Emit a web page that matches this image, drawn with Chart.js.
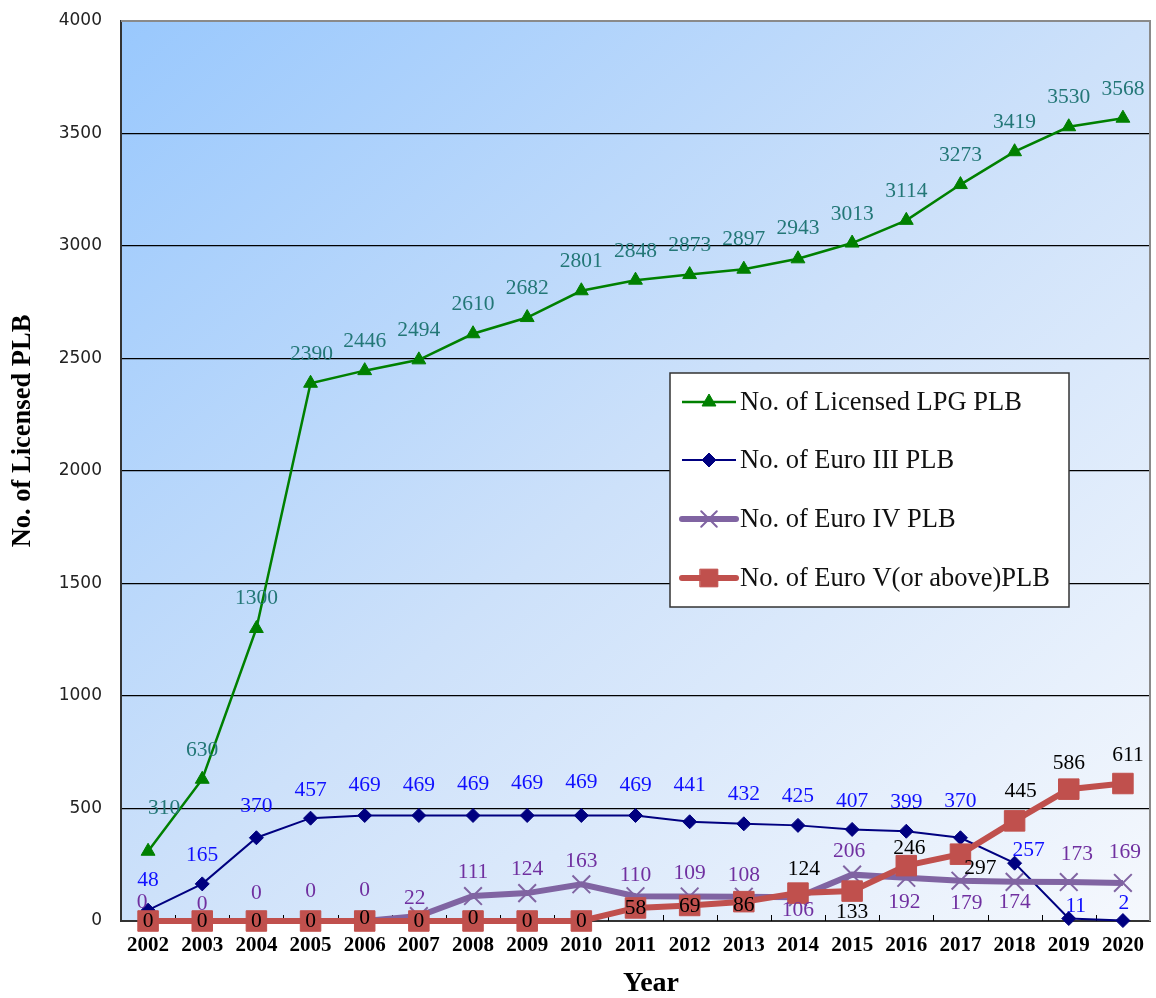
<!DOCTYPE html>
<html>
<head>
<meta charset="utf-8">
<title>Licensed PLB by fuel type, 2002–2020</title>
<script src="https://cdn.jsdelivr.net/npm/chart.js@4.4.1/dist/chart.umd.min.js"></script>
<style>
  html, body { margin: 0; padding: 0; background: #ffffff; }
  #wrap { width: 1156px; height: 998px; }
</style>
</head>
<body>
<div id="wrap"><canvas id="plb" width="1156" height="998"></canvas></div>
<script>
// ---- data ----
const years = ['2002','2003','2004','2005','2006','2007','2008','2009','2010','2011',
               '2012','2013','2014','2015','2016','2017','2018','2019','2020'];
const lpgPlb    = [310, 630, 1300, 2390, 2446, 2494, 2610, 2682, 2801, 2848, 2873, 2897, 2943, 3013, 3114, 3273, 3419, 3530, 3568];
const euro3Plb  = [48, 165, 370, 457, 469, 469, 469, 469, 469, 469, 441, 432, 425, 407, 399, 370, 257, 11, 2];
const euro4Plb  = [0, 0, 0, 0, 0, 22, 111, 124, 163, 110, 109, 108, 106, 206, 192, 179, 174, 173, 169];
const euro5Plb  = [0, 0, 0, 0, 0, 0, 0, 0, 0, 58, 69, 86, 124, 133, 246, 297, 445, 586, 611];
const yTicks    = [0, 500, 1000, 1500, 2000, 2500, 3000, 3500, 4000];

const seriesNames = ['No. of Licensed LPG PLB', 'No. of Euro III PLB', 'No. of Euro IV PLB', 'No. of Euro V(or above)PLB'];

// value-label placement relative to each point: [dx, dy] in pixels
const lpgLabelPos = [[16,-43],[0,-29],[0,-30],[1,-29],[0,-29],[0,-29],[0,-29],[0,-29],[0,-29],[0,-29],
                     [0,-29],[0,-30],[0,-30],[0,-29],[0,-29],[0,-29],[0,-29],[0,-29],[0,-29]];
const euro3LabelPos = [[0,-30],[0,-29],[0,-31],[0,-28],[0,-30],[0,-30],[0,-31],[0,-32],[0,-33],[0,-30],
                       [0,-36],[0,-29],[0,-29],[0,-28],[0,-29],[0,-36],[14,-13],[7,-12],[1,-17]];
const euro4LabelPos = [[-6,-19],[0,-17],[0,-28],[0,-30],[0,-31],[-4,-18],[0,-24],[0,-24],[0,-23],[0,-21],
                       [0,-23],[0,-21],[0,13],[-3,-23],[-2,25],[6,23],[0,21],[8,-28],[2,-31]];
const euro5LabelPos = [[0,0],[0,0],[0,0],[0,0],[0,-3],[0,0],[0,-3],[0,0],[0,0],[0,0],
                       [0,1],[0,4],[6,-24],[0,21],[3,-17],[20,14],[6,-30],[0,-26],[5,-28]];

// ---- styles ----
const SERIF = '"Liberation Serif", "Times New Roman", serif';
const SANS = '"DejaVu Sans", Tahoma, sans-serif';
const GREEN = '#008000', NAVY = '#000080', PURPLE = '#8064a2', RED = '#c0504d';

// plot background, top/right frame, inner tick marks and axis titles
const framePlugin = {
  id: 'frame',
  beforeDraw(chart) {
    const { ctx, chartArea: a } = chart;
    const W = a.right - a.left, H = a.bottom - a.top;
    const t = 2 * W * H / (W * W + H * H);
    const g = ctx.createLinearGradient(a.left, a.top, a.left + t * H, a.top + t * W);
    g.addColorStop(0, '#99c8fd');
    g.addColorStop(0.5, '#cde1fa');
    g.addColorStop(1, '#f5f8fd');
    ctx.save();
    ctx.fillStyle = g;
    ctx.fillRect(a.left, a.top, W, H);
    ctx.restore();
  },
  beforeDatasetsDraw(chart) {
    const { ctx, chartArea: a, scales } = chart;
    const xs = scales.x;
    ctx.save();
    ctx.strokeStyle = '#8a8a8a';
    ctx.lineWidth = 2;
    ctx.beginPath();
    ctx.moveTo(a.left, a.top);
    ctx.lineTo(a.right, a.top);
    ctx.lineTo(a.right, a.bottom);
    ctx.stroke();
    ctx.strokeStyle = '#000';
    ctx.lineWidth = 1;
    ctx.beginPath();
    for (let i = 1; i < years.length; i++) {
      const x = Math.round((xs.getPixelForValue(i - 1) + xs.getPixelForValue(i)) / 2) + 0.5;
      ctx.moveTo(x, a.bottom);
      ctx.lineTo(x, a.bottom - 6);
    }
    ctx.stroke();
    ctx.restore();
  },
  afterDraw(chart) {
    const { ctx } = chart;
    ctx.save();
    ctx.fillStyle = '#000';
    ctx.textAlign = 'center';
    ctx.textBaseline = 'middle';
    ctx.font = 'bold 28px ' + SERIF;
    ctx.fillText('Year', 651, 984);
    ctx.translate(23, 431);
    ctx.rotate(-Math.PI / 2);
    ctx.font = 'bold 26.5px ' + SERIF;
    ctx.fillText('No. of Licensed PLB', 0, 0);
    ctx.restore();
  }
};

// value labels next to each point
const valueLabelPlugin = {
  id: 'valueLabels',
  afterDatasetsDraw(chart) {
    const ctx = chart.ctx;
    ctx.save();
    ctx.font = '21.5px ' + SERIF;
    ctx.textAlign = 'center';
    ctx.textBaseline = 'middle';
    chart.data.datasets.forEach((ds, di) => {
      const meta = chart.getDatasetMeta(di);
      ctx.fillStyle = ds.labelColor;
      meta.data.forEach((pt, i) => {
        const p = ds.labelPos[i];
        ctx.fillText(String(ds.data[i]), pt.x + p[0], pt.y + p[1]);
      });
    });
    ctx.restore();
  }
};

// boxed legend inside the plot
const boxLegendPlugin = {
  id: 'boxLegend',
  afterDraw(chart) {
    const ctx = chart.ctx;
    const box = { x: 670, y: 373, w: 399, h: 234 };
    const rows = [402, 460, 519, 578];
    ctx.save();
    ctx.fillStyle = '#ffffff';
    ctx.fillRect(box.x, box.y, box.w, box.h);
    ctx.strokeStyle = '#333';
    ctx.lineWidth = 1.5;
    ctx.strokeRect(box.x, box.y, box.w, box.h);
    chart.data.datasets.forEach((ds, i) => {
      const y = rows[i];
      ctx.save();
      ctx.strokeStyle = ds.borderColor;
      ctx.lineWidth = ds.borderWidth;
      ctx.lineCap = ds.borderWidth > 3 ? 'round' : 'butt';
      ctx.beginPath();
      ctx.moveTo(682, y);
      ctx.lineTo(736, y);
      ctx.stroke();
      ctx.fillStyle = ds.pointBackgroundColor;
      ctx.strokeStyle = ds.pointBorderColor;
      ctx.lineWidth = ds.pointBorderWidth;
      Chart.helpers.drawPoint(ctx, {
        pointStyle: ds.pointStyle,
        radius: ds.legendRadius,
        borderWidth: ds.pointBorderWidth,
        rotation: 0
      }, 709, y);
      ctx.restore();
      ctx.fillStyle = '#111';
      ctx.font = '26.5px ' + SERIF;
      ctx.textAlign = 'left';
      ctx.textBaseline = 'middle';
      ctx.fillText(ds.label, 740, y + 1);
    });
    ctx.restore();
  }
};

const datasets = [
  {
    label: seriesNames[0], data: lpgPlb, order: 4,
    borderColor: GREEN, backgroundColor: GREEN, borderWidth: 2.5,
    pointStyle: 'triangle', pointRadius: 8, legendRadius: 8,
    pointBackgroundColor: GREEN, pointBorderColor: GREEN, pointBorderWidth: 1,
    labelColor: '#237777', labelPos: lpgLabelPos
  },
  {
    label: seriesNames[1], data: euro3Plb, order: 3,
    borderColor: NAVY, backgroundColor: NAVY, borderWidth: 2,
    pointStyle: 'rectRot', pointRadius: 7, legendRadius: 7,
    pointBackgroundColor: NAVY, pointBorderColor: NAVY, pointBorderWidth: 1,
    labelColor: '#1010ff', labelPos: euro3LabelPos
  },
  {
    label: seriesNames[2], data: euro4Plb, order: 2,
    borderColor: PURPLE, backgroundColor: PURPLE, borderWidth: 6,
    pointStyle: 'crossRot', pointRadius: 12.5, legendRadius: 11,
    pointBackgroundColor: PURPLE, pointBorderColor: PURPLE, pointBorderWidth: 2,
    labelColor: '#7030a0', labelPos: euro4LabelPos
  },
  {
    label: seriesNames[3], data: euro5Plb, order: 1,
    borderColor: RED, backgroundColor: RED, borderWidth: 6,
    pointStyle: 'rect', pointRadius: 14.5, legendRadius: 12.5,
    pointBackgroundColor: RED, pointBorderColor: RED, pointBorderWidth: 1,
    labelColor: '#000000', labelPos: euro5LabelPos
  }
];
datasets.forEach(d => { d.tension = 0; d.clip = false; d.fill = false; });

new Chart(document.getElementById('plb'), {
  type: 'line',
  data: { labels: years, datasets: datasets },
  options: {
    responsive: false,
    animation: false,
    devicePixelRatio: 1,
    layout: { autoPadding: false, padding: { left: 0, right: 6, top: 21, bottom: 0 } },
    plugins: {
      legend: { display: false },
      tooltip: { enabled: false },
      title: { display: false }
    },
    scales: {
      x: {
        type: 'category',
        offset: true,
        grid: { display: true, drawOnChartArea: false, drawTicks: false },
        border: { display: true, color: '#333', width: 2 },
        ticks: {
          color: '#000',
          font: { family: SERIF, size: 21, weight: 'bold' },
          padding: 12,
          maxRotation: 0,
          autoSkip: false
        },
        afterFit(scale) {
          scale.height = 77;
          scale.paddingLeft = 0;
          scale.paddingRight = 0;
        }
      },
      y: {
        min: 0, max: 4000,
        afterBuildTicks(scale) { scale.ticks = yTicks.map(v => ({ value: v })); },
        grid: {
          drawTicks: false,
          color: c => (c.tick && c.tick.value > 0 && c.tick.value < 4000) ? '#000' : 'rgba(0,0,0,0)',
          lineWidth: 1.3
        },
        border: { display: true, color: '#333', width: 2 },
        ticks: {
          color: '#222',
          font: { family: SANS, size: 17 },
          padding: 19,
          callback: v => String(v)
        },
        afterFit(scale) {
          scale.width = 121;
          scale.paddingTop = 0;
          scale.paddingBottom = 0;
        }
      }
    }
  },
  plugins: [framePlugin, valueLabelPlugin, boxLegendPlugin]
});
</script>
</body>
</html>
